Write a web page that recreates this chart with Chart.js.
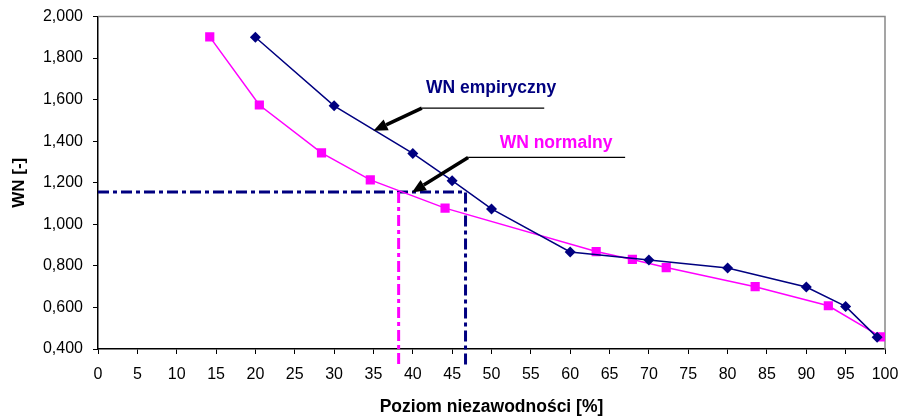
<!DOCTYPE html>
<html>
<head>
<meta charset="utf-8">
<script src="https://cdn.jsdelivr.net/npm/chart.js@4/dist/chart.umd.min.js"></script>
<style>
html,body{margin:0;padding:0;background:#fff;}
#wrap{width:900px;height:419px;position:relative;}
</style>
</head>
<body>
<div id="wrap"><canvas id="c" width="900" height="419"></canvas></div>
<script>
// Data
const empX = [20, 30, 40, 45, 50, 60, 70, 80, 90, 95, 99];
const empY = [1.900, 1.570, 1.341, 1.210, 1.074, 0.867, 0.828, 0.790, 0.698, 0.605, 0.456];
const normX = [14.2, 20.5, 28.4, 34.6, 44.1, 63.3, 67.9, 72.2, 83.5, 92.8, 99.5];
const normY = [1.902, 1.574, 1.344, 1.214, 1.078, 0.869, 0.831, 0.792, 0.700, 0.608, 0.458];
const refLevel = 1.155;
const refXEmp = 46.7;
const refXNorm = 38.2;
const xTickStep = 5;
const yTickStep = 0.2;
const seriesNames = ['WN empiryczny', 'WN normalny'];
const xTitle = 'Poziom niezawodności [%]';
const yTitle = 'WN [-]';

const NAVY = '#000080';
const MAG = '#FF00FF';
const FONT = "'Liberation Sans', Arial, sans-serif";
const belowAxis = 0.325;

const toPts = (xs, ys) => xs.map((x, i) => ({x, y: ys[i]}));

// annotation layout (label, underline, arrow) in data coordinates
const notes = [
  {text: seriesNames[0], color: NAVY, tx: 49.95, ty: 1.657, lx0: 41.15, lx1: 56.7, ly: 1.559, tipX: 35.0, tipY: 1.45},
  {text: seriesNames[1], color: MAG, tx: 58.2, ty: 1.392, lx0: 47.03, lx1: 66.98, ly: 1.322, tipX: 39.88, tipY: 1.153}
];

const decor = {
  id: 'decor',
  beforeDatasetsDraw(chart) {
    const {ctx, chartArea: a} = chart;
    ctx.save();
    ctx.strokeStyle = '#888888';
    ctx.lineWidth = 1.5;
    ctx.beginPath();
    ctx.moveTo(a.left, a.top);
    ctx.lineTo(a.right, a.top);
    ctx.lineTo(a.right, a.bottom);
    ctx.stroke();
    ctx.restore();
  },
  afterDatasetsDraw(chart) {
    const {ctx, scales: {x, y}} = chart;
    ctx.save();
    notes.forEach(n => {
      ctx.font = 'bold 17.5px ' + FONT;
      ctx.fillStyle = n.color;
      ctx.textAlign = 'center';
      ctx.textBaseline = 'middle';
      ctx.fillText(n.text, x.getPixelForValue(n.tx), y.getPixelForValue(n.ty));
      const x0 = x.getPixelForValue(n.lx0), x1 = x.getPixelForValue(n.lx1), ly = y.getPixelForValue(n.ly);
      ctx.strokeStyle = '#000';
      ctx.lineWidth = 1.2;
      ctx.beginPath();
      ctx.moveTo(x0, ly);
      ctx.lineTo(x1, ly);
      ctx.stroke();
      const tx = x.getPixelForValue(n.tipX), ty = y.getPixelForValue(n.tipY);
      const ang = Math.atan2(ty - ly, tx - x0);
      const hl = 14, hw = 6;
      const bx = tx - hl * Math.cos(ang), by = ty - hl * Math.sin(ang);
      ctx.lineWidth = 3.5;
      ctx.beginPath();
      ctx.moveTo(x0, ly);
      ctx.lineTo(bx, by);
      ctx.stroke();
      ctx.fillStyle = '#000';
      ctx.beginPath();
      ctx.moveTo(tx, ty);
      ctx.lineTo(bx + hw * Math.sin(ang), by - hw * Math.cos(ang));
      ctx.lineTo(bx - hw * Math.sin(ang), by + hw * Math.cos(ang));
      ctx.closePath();
      ctx.fill();
    });
    ctx.restore();
  }
};

new Chart(document.getElementById('c'), {
  type: 'scatter',
  data: {
    datasets: [
      {
        label: 'ref-norm',
        data: [{x: refXNorm, y: refLevel}, {x: refXNorm, y: belowAxis}],
        showLine: true, borderColor: MAG, borderWidth: 3, borderDash: [11, 4, 4, 4],
        pointRadius: 0, clip: false, order: 3
      },
      {
        label: 'ref-emp',
        data: [{x: 0, y: refLevel}, {x: refXEmp, y: refLevel}, {x: refXEmp, y: belowAxis}],
        showLine: true, borderColor: NAVY, borderWidth: 3, borderDash: [11, 4, 4, 4],
        pointRadius: 0, clip: false, order: 3
      },
      {
        label: seriesNames[1],
        data: toPts(normX, normY),
        showLine: true, borderColor: MAG, borderWidth: 1.5,
        pointStyle: 'rect', pointRadius: 6.5, pointBackgroundColor: MAG, pointBorderColor: MAG, pointBorderWidth: 0,
        order: 2
      },
      {
        label: seriesNames[0],
        data: toPts(empX, empY),
        showLine: true, borderColor: NAVY, borderWidth: 1.5,
        pointStyle: 'rectRot', pointRadius: 5.5, pointBackgroundColor: NAVY, pointBorderColor: NAVY, pointBorderWidth: 0,
        order: 1
      }
    ]
  },
  options: {
    responsive: false,
    animation: false,
    layout: {padding: {left: 0, top: 16.5, right: 15, bottom: 0}},
    plugins: {legend: {display: false}, tooltip: {enabled: false}},
    scales: {
      x: {
        type: 'linear', min: 0, max: 100,
        ticks: {stepSize: xTickStep, color: '#000', font: {family: FONT, size: 16}, padding: 11, maxRotation: 0, autoSkip: false},
        grid: {display: true, drawOnChartArea: false, drawTicks: true, tickLength: 5, color: '#000', lineWidth: 1},
        border: {display: true, color: '#000', width: 1.5},
        title: {display: true, text: xTitle, color: '#000', font: {family: FONT, size: 17.5, weight: 'bold'}, padding: {top: 0, bottom: 1}},
        afterFit(s) { s.height = 70; s.paddingLeft = 0; s.paddingRight = 0; }
      },
      y: {
        type: 'linear', min: 0.4, max: 2.0,
        ticks: {stepSize: yTickStep, color: '#000', font: {family: FONT, size: 16}, padding: 10,
          callback: v => v.toFixed(3).replace('.', ',')},
        grid: {display: true, drawOnChartArea: false, drawTicks: true, tickLength: 5, color: '#000', lineWidth: 1},
        border: {display: true, color: '#000', width: 1.5},
        title: {display: true, text: yTitle, color: '#000', font: {family: FONT, size: 17, weight: 'bold'}, padding: {top: 9, bottom: 0}},
        afterFit(s) { s.width = 98; s.paddingTop = 0; s.paddingBottom = 0; }
      }
    }
  },
  plugins: [decor]
});
</script>
</body>
</html>
